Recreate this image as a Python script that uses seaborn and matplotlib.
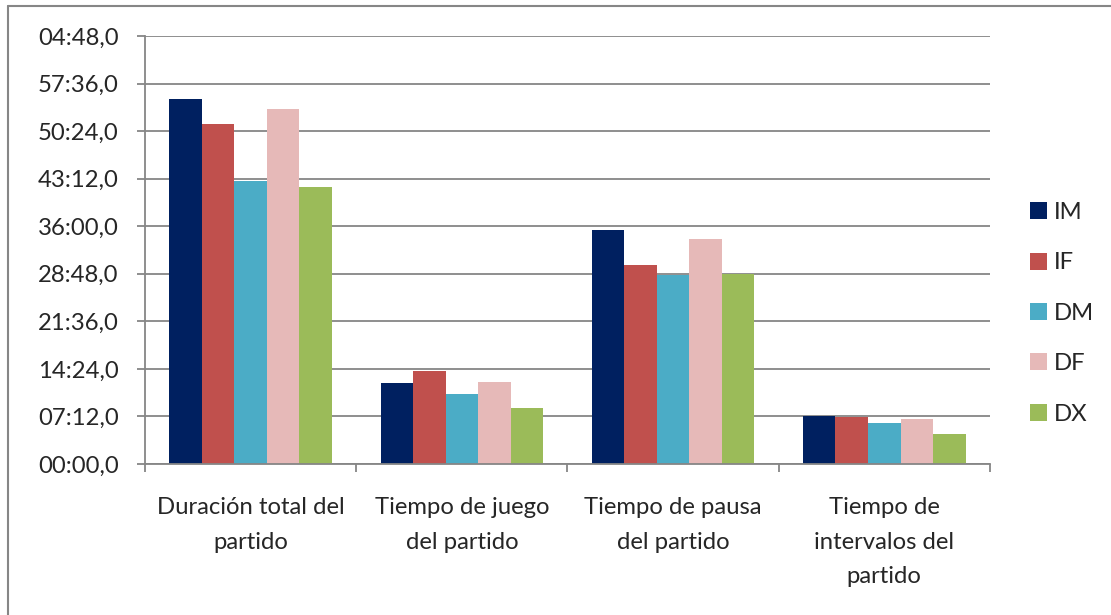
import pandas as pd
import matplotlib
matplotlib.use('Agg')
import matplotlib.pyplot as plt
import seaborn as sns
from matplotlib.ticker import FixedLocator, FuncFormatter
from matplotlib.lines import Line2D

# Données (minutes)
categorias = ['Duración total del\npartido', 'Tiempo de juego\ndel partido',
              'Tiempo de pausa\ndel partido', 'Tiempo de\nintervalos del\npartido']
series = ['IM', 'IF', 'DM', 'DF', 'DX']
valores = {
    'IM': [55.33, 12.34, 35.47, 7.23],
    'IF': [51.54, 14.05, 30.12, 7.08],
    'DM': [42.85, 10.57, 28.60, 6.27],
    'DF': [53.72, 12.49, 34.00, 6.82],
    'DX': [41.99, 8.44, 28.70, 4.50],
}
colores = ['#002060', '#C0504D', '#4BACC6', '#E6B9B8', '#9BBB59']
ticks_min = [0, 7.2, 14.4, 21.6, 28.8, 36.0, 43.2, 50.4, 57.6, 64.8]

filas = []
for s in series:
    for c, v in zip(categorias, valores[s]):
        filas.append({'categoria': c, 'serie': s, 'minutos': v})
df = pd.DataFrame(filas)

sns.set_style('white')
plt.rcParams['font.family'] = ['Lato', 'DejaVu Sans']

fig = plt.figure(figsize=(11.11, 6.15), dpi=100)
ax = fig.add_axes([0.1305, 0.2455, 0.891 - 0.1305, 0.9415 - 0.2455])

sns.barplot(data=df, x='categoria', y='minutos', hue='serie', hue_order=series,
            palette=colores, width=0.77, linewidth=0, saturation=1, ax=ax)

def fmt(x, pos):
    total = int(round(x * 60))
    m = (total // 60) % 60
    s = total % 60
    return f'{m:02d}:{s:02d},0'

gris = '#868686'
fs = 17.2
ax.set_ylim(0, 64.8)
ax.set_xlim(-0.5, 3.5)
ax.yaxis.set_major_locator(FixedLocator(ticks_min))
ax.yaxis.set_major_formatter(FuncFormatter(fmt))
ax.grid(axis='y', color=gris, linewidth=1.3)
ax.set_axisbelow(True)
for side in ['top', 'right']:
    ax.spines[side].set_visible(False)
for side in ['left', 'bottom']:
    ax.spines[side].set_color(gris)
    ax.spines[side].set_linewidth(1.3)

ax.set_xlabel('')
ax.set_ylabel('')
ax.tick_params(axis='y', length=6, width=1.3, color=gris, labelsize=fs, pad=13, left=True)
# ticks x en los limites de las categorias
ax.set_xticks([0, 1, 2, 3])
ax.set_xticklabels(categorias, fontsize=fs, linespacing=1.78)
ax.tick_params(axis='x', length=0, pad=24)
ax.set_xticks([-0.5, 0.5, 1.5, 2.5, 3.5], minor=True)
ax.tick_params(axis='x', which='minor', length=6, width=1.3, color=gris, bottom=True)

leg = ax.legend(loc='center left', bbox_to_anchor=(1.022, 0.352), frameon=False,
                fontsize=fs, handlelength=0.72, handleheight=0.72,
                handletextpad=0.3, labelspacing=1.23)

# borde del grafico
fig.add_artist(Line2D([8 / 1111, 8 / 1111], [0, 1 - 6 / 615], color=gris, linewidth=1.5))
fig.add_artist(Line2D([8 / 1111, 1], [1 - 6 / 615, 1 - 6 / 615], color=gris, linewidth=1.5))

fig.savefig('out.png', dpi=100)
